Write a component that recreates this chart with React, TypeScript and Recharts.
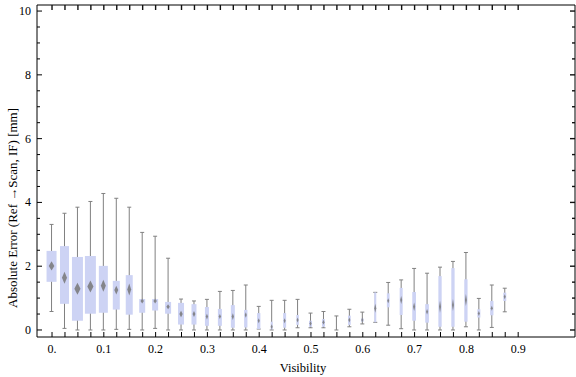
/**
 * Box-whisker chart of absolute error against visibility.
 */

import React from 'react';
import { ComposedChart, Bar, Scatter, XAxis, YAxis } from 'recharts';

// ============================================================================
// DATA
// ============================================================================

const visibility = [
  0, 0.025, 0.05, 0.075, 0.1, 0.125, 0.15, 0.175, 0.2, 0.225, 0.25, 0.275,
  0.3, 0.325, 0.35, 0.375, 0.4, 0.425, 0.45, 0.475, 0.5, 0.525, 0.55, 0.575,
  0.6, 0.625, 0.65, 0.675, 0.7, 0.725, 0.75, 0.775, 0.8, 0.825, 0.85, 0.875,
];

const whiskerLow = [
  0.58, 0.05, 0, 0, 0, 0.02, 0.02, 0, 0.05, 0, 0, 0,
  0, 0, 0, 0, 0.03, 0, 0, 0.07, 0.07, 0.07, 0, 0.1,
  0.19, 0.24, 0.15, 0.04, 0, 0, 0, 0, 0.1, 0, 0.08, 0.57,
];

const quartile1 = [
  1.51, 0.82, 0.29, 0.51, 0.54, 0.64, 0.48, 0.54, 0.61, 0.51, 0.17, 0.17,
  0.13, 0.13, 0.07, 0.08, 0.03, 0.02, 0.07, 0.16, 0.1, 0.1, 0, 0.16,
  0.26, 0.24, 0.71, 0.47, 0.29, 0.23, 0.1, 0.1, 0.26, 0.39, 0.46, 0.91,
];

const median = [
  2.01, 1.64, 1.29, 1.36, 1.39, 1.25, 1.27, 0.91, 0.91, 0.73, 0.5, 0.5,
  0.42, 0.42, 0.42, 0.47, 0.29, 0.1, 0.29, 0.31, 0.2, 0.24, 0.2, 0.31,
  0.31, 0.68, 0.92, 0.94, 0.73, 0.57, 0.73, 0.78, 0.94, 0.52, 0.68, 1.04,
];

const quartile3 = [
  2.48, 2.63, 2.29, 2.32, 2.01, 1.54, 1.72, 0.97, 0.97, 0.88, 0.85, 0.81,
  0.72, 0.66, 0.78, 0.63, 0.53, 0.26, 0.53, 0.47, 0.29, 0.34, 0, 0.45,
  0.36, 1.18, 1.15, 1.32, 1.19, 0.81, 1.69, 1.94, 1.59, 0.65, 0.91, 1.17,
];

const whiskerHigh = [
  3.31, 3.66, 3.85, 4.03, 4.28, 4.13, 3.85, 3.06, 2.94, 2.25, 0.97, 0.91,
  0.96, 1.21, 1.24, 1.41, 0.74, 0.93, 0.93, 0.96, 0.53, 0.58, 0.44, 0.65,
  0.56, 1.18, 1.49, 1.57, 1.93, 1.78, 1.97, 2.15, 2.43, 0.99, 1.41, 1.31,
];

// relative sample weight, drives the box width
const sampleWeight = [
  10, 9, 11, 11, 9, 7, 7, 6, 6, 6, 6, 5,
  4, 4, 4, 3.3, 3.3, 2, 3, 2.5, 3, 3, 0, 2.7,
  2.7, 2, 2.7, 3, 3.7, 3.7, 3.3, 3.3, 3.3, 3, 3.3, 3,
];

const xTicks = Array.from({ length: 37 }, (_, i) => Math.round(i * 25) / 1000);
const yTicks = Array.from({ length: 21 }, (_, i) => i * 0.5);

const data = visibility.map((v, i) => ({
  v,
  range: [whiskerLow[i], whiskerHigh[i]],
  q1: quartile1[i],
  med: median[i],
  q3: quartile3[i],
  lo: whiskerLow[i],
  hi: whiskerHigh[i],
  weight: sampleWeight[i],
}));

// ============================================================================
// CONSTANTS
// ============================================================================

const WIDTH = 576;
const HEIGHT = 377;
const MARGIN = { top: 4, right: 0, bottom: 0, left: 0 };
const PLOT_TOP = MARGIN.top + 1;
const PLOT_RIGHT = WIDTH - MARGIN.right - 1;

const FONT = '"Liberation Serif", "DejaVu Serif", serif';
const BOX_FILL = '#cdd3f4';
const WHISKER = '#808080';
const MEDIAN = '#777777';

// ============================================================================
// SHAPES
// ============================================================================

const BoxShape = (props: any) => {
  const { x, y, width, height, payload } = props;
  if (payload == null) return null;
  const top = Math.min(y, y + height);
  const bottom = Math.max(y, y + height);
  const span = payload.hi - payload.lo;
  const k = span > 0 ? (bottom - top) / span : 0;
  const py = (val: number) => top + (payload.hi - val) * k;
  const cx = x + width / 2;
  const w = payload.weight;

  const q3y = py(payload.q3);
  const q1y = py(payload.q1);
  const my = py(payload.med);
  const dw = Math.max(1, w * 0.28);
  const dh = Math.min(6, Math.max(2.5, (q1y - q3y) * 0.15));

  return (
    <g>
      <line x1={cx} x2={cx} y1={top} y2={bottom} stroke={WHISKER} strokeWidth={1} />
      <line x1={cx - 2} x2={cx + 2} y1={top} y2={top} stroke={WHISKER} strokeWidth={1} />
      <line x1={cx - 2} x2={cx + 2} y1={bottom} y2={bottom} stroke={WHISKER} strokeWidth={1} />
      {w > 0 && (
        <rect x={cx - w / 2} y={q3y} width={w} height={Math.max(1, q1y - q3y)} fill={BOX_FILL} />
      )}
      {w > 0 && (
        <polygon
          points={`${cx},${my - dh} ${cx + dw},${my} ${cx},${my + dh} ${cx - dw},${my}`}
          fill={MEDIAN}
          fillOpacity={0.85}
        />
      )}
    </g>
  );
};

const formatX = (v: number) => {
  if (v === 0) return '0.';
  return v.toFixed(1);
};

const isMajorX = (v: number) => Math.abs(v * 10 - Math.round(v * 10)) < 1e-6;

// bottom tick also mirrors a tick onto the top frame edge
const BottomTick = ({ x, y, payload }: any) => (
  <g>
    <path d={`M${x},${y}V${y - 5}`} stroke="#000" strokeWidth={1} />
    <path d={`M${x},${PLOT_TOP}V${PLOT_TOP + 5}`} stroke="#111" strokeWidth={1.4} />
    {isMajorX(payload.value) && (
      <text x={x} y={y + 16} textAnchor="middle" fontFamily={FONT} fontSize={12} fill="#000">
        {formatX(payload.value)}
      </text>
    )}
  </g>
);

const isMajorY = (v: number) => v % 2 === 0;

// left tick also mirrors a tick onto the right frame edge
const LeftTick = ({ x, y, payload }: any) => {
  const len = isMajorY(payload.value) ? 5 : 3;
  return (
    <g>
      <path d={`M${x},${y}H${x + len}`} stroke="#000" strokeWidth={1} />
      <path d={`M${PLOT_RIGHT},${y}H${PLOT_RIGHT - len}`} stroke="#111" strokeWidth={1.4} />
      {isMajorY(payload.value) && (
        <text x={x - 6} y={y + 4} textAnchor="end" fontFamily={FONT} fontSize={12} fill="#000">
          {payload.value}
        </text>
      )}
    </g>
  );
};

// ============================================================================
// COMPONENT
// ============================================================================

export default function App() {
  return (
    <div style={{ position: 'absolute', left: 0, top: 0, width: WIDTH, height: HEIGHT, background: '#fff' }}>
      <ComposedChart width={WIDTH} height={HEIGHT} data={data} margin={MARGIN}>
        <XAxis
          xAxisId="bottom"
          dataKey="v"
          type="number"
          domain={[-0.029, 1.0097]}
          allowDataOverflow
          ticks={xTicks}
          interval={0}
          height={40}
          tickSize={0}
          tickMargin={0}
          tickLine={false}
          axisLine={{ stroke: '#000' }}
          tick={<BottomTick />}
        />
        <XAxis
          xAxisId="top"
          orientation="top"
          dataKey="v"
          type="number"
          domain={[-0.029, 1.0097]}
          allowDataOverflow
          height={1}
          tickLine={false}
          axisLine={{ stroke: '#000' }}
          tick={false}
        />
        <YAxis
          yAxisId="left"
          type="number"
          domain={[-0.22, 10.19]}
          allowDataOverflow
          ticks={yTicks}
          interval={0}
          width={37}
          tickSize={0}
          tickMargin={0}
          tickLine={false}
          axisLine={{ stroke: '#000' }}
          tick={<LeftTick />}
        />
        <YAxis
          yAxisId="right"
          orientation="right"
          type="number"
          domain={[-0.22, 10.19]}
          allowDataOverflow
          width={1}
          tickLine={false}
          axisLine={{ stroke: '#000' }}
          tick={false}
        />
        <Scatter
          xAxisId="top"
          yAxisId="right"
          dataKey="med"
          shape={() => <g />}
          isAnimationActive={false}
        />
        <Bar
          xAxisId="bottom"
          yAxisId="left"
          dataKey="range"
          barSize={12}
          shape={BoxShape}
          isAnimationActive={false}
        />
        <text x={303} y={372} textAnchor="middle" fontFamily={FONT} fontSize={12.5} fill="#000">
          Visibility
        </text>
        <text
          x={17}
          y={208}
          textAnchor="middle"
          fontFamily={FONT}
          fontSize={13}
          fill="#000"
          transform="rotate(-90 17 208)"
        >
          Absolute Error (Ref →Scan, IF) [mm]
        </text>
      </ComposedChart>
    </div>
  );
}
